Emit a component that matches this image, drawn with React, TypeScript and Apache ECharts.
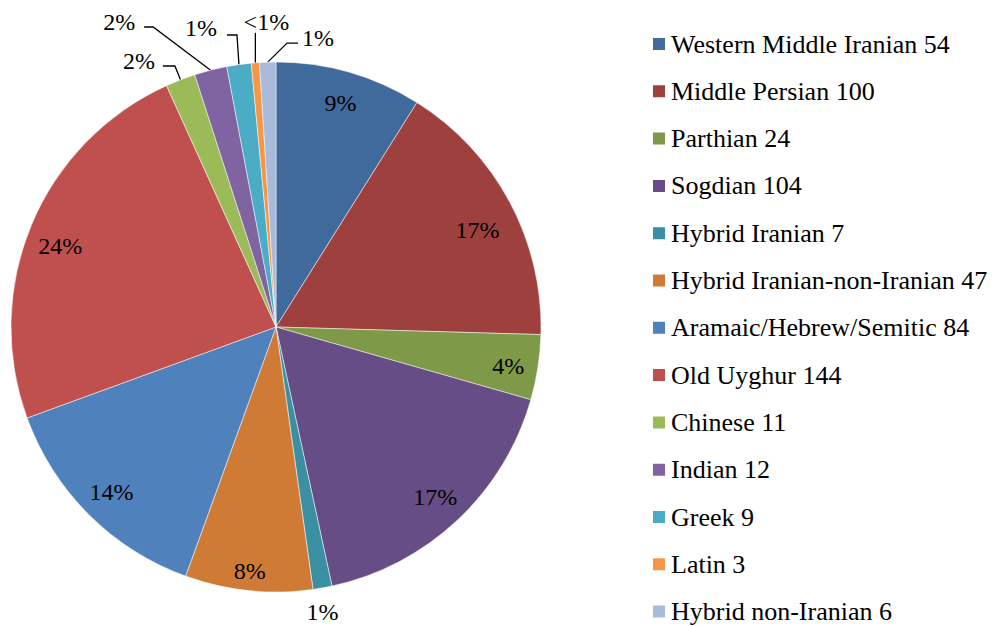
import React, { useEffect, useRef } from "react";
import * as echarts from "echarts";

const categories = [
  "Western Middle Iranian",
  "Middle Persian",
  "Parthian",
  "Sogdian",
  "Hybrid Iranian",
  "Hybrid Iranian-non-Iranian",
  "Aramaic/Hebrew/Semitic",
  "Old Uyghur",
  "Chinese",
  "Indian",
  "Greek",
  "Latin",
  "Hybrid non-Iranian",
];
const counts = [54, 100, 24, 104, 7, 47, 84, 144, 11, 12, 9, 3, 6];

const colors = [
  "#40699C",
  "#9E413E",
  "#7E9A48",
  "#664D86",
  "#3A8FA2",
  "#CF7B35",
  "#4F81BD",
  "#C0504D",
  "#9BBB59",
  "#8064A2",
  "#4BACC6",
  "#F79646",
  "#A9BADA",
];

// indices whose percentage label sits outside the pie
const outsideIdx = [4, 8, 9, 10, 11, 12];

// leader-line styling for outside labels, offsets relative to the slice's outer edge point
const leaderStyle: Record<
  number,
  { bend: [number, number]; end: [number, number]; label: [number, number]; align: string; line: boolean }
> = {
  4: { bend: [0, 0], end: [0, 0], label: [0, 24], align: "center", line: false },
  8: { bend: [-5.6, -13.8], end: [-17.6, -13.8], label: [-8, -5], align: "right", line: true },
  9: { bend: [-57.5, -43.2], end: [-66.5, -43.2], label: [-9, -5], align: "right", line: true },
  10: { bend: [-2, -29.6], end: [-12, -29.6], label: [-10, -7], align: "right", line: true },
  11: { bend: [0, -30], end: [0, -30], label: [11, -11], align: "center", line: true },
  12: { bend: [19.3, -19.1], end: [30.3, -19.1], label: [4, -5], align: "left", line: true },
};

// small nudges of the inside labels (best-fit placement of the original)
const insideNudge: Record<number, [number, number]> = {
  1: [-4, 13],
  2: [2, 3],
  5: [-2, 12],
  7: [-1, 9],
};

const CX = 276;
const CY = 327;
const R = 265;
const FONT = "Liberation Serif";

const total = counts.reduce((a, b) => a + b, 0);

const pctFormatter = (p: any) => {
  const v = Math.round(((p.value as number) / total) * 100);
  if (v < 1) return "<1%";
  return v + "%";
};

export default function App() {
  const ref = useRef<HTMLDivElement>(null);
  useEffect(() => {
    if (!ref.current) return;
    const chart = echarts.init(ref.current, undefined, { renderer: "svg" });
    const midAngles: number[] = [];
    let cum = 0;
    counts.forEach((c) => {
      midAngles.push(((cum + c / 2) / total) * Math.PI * 2);
      cum += c;
    });
    const edgePoint = (i: number): [number, number] => [
      CX + R * Math.sin(midAngles[i]),
      CY - R * Math.cos(midAngles[i]),
    ];

    const mainData = categories.map((name, i) => ({
      name,
      value: counts[i],
      itemStyle: { color: colors[i] },
      label: { show: outsideIdx.includes(i) },
      labelLine: { show: outsideIdx.includes(i) && leaderStyle[i].line },
    }));
    const overlayData = categories.map((name, i) => ({
      name,
      value: counts[i],
      label: { show: !outsideIdx.includes(i) },
    }));

    chart.setOption({
      animation: false,
      color: colors,
      textStyle: { fontFamily: FONT },
      legend: {
        orient: "vertical",
        left: 651,
        top: 31,
        height: 595,
        padding: 0,
        itemWidth: 14,
        itemHeight: 14,
        itemGap: 21.3,
        icon: "rect",
        data: categories,
        selectedMode: false,
        formatter: (name: string) => `${name} ${counts[categories.indexOf(name)]}`,
        textStyle: { fontFamily: FONT, fontSize: 26, lineHeight: 26, color: "#000" },
      },
      series: [
        {
          type: "pie",
          center: [CX, CY],
          radius: R,
          startAngle: 90,
          clockwise: true,
          avoidLabelOverlap: false,
          silent: true,
          itemStyle: { borderColor: "#ffffff", borderWidth: 0.5 },
          label: {
            position: "outside",
            formatter: pctFormatter,
            fontFamily: FONT,
            fontSize: 24,
            color: "#000",
          },
          labelLine: { lineStyle: { color: "#000", width: 1.3 }, length: 10, length2: 10 },
          labelLayout: (params: any) => {
            const i = params.dataIndex;
            const s = leaderStyle[i];
            if (!s) return {};
            const [ex, ey] = edgePoint(i);
            const bx = ex + s.bend[0];
            const by = ey + s.bend[1];
            const tx = ex + s.end[0];
            const ty = ey + s.end[1];
            return {
              x: tx + s.label[0],
              y: ty + s.label[1],
              align: s.align,
              verticalAlign: "middle",
              labelLinePoints: [
                [ex, ey],
                [bx, by],
                [tx, ty],
              ],
            };
          },
          data: mainData,
        },
        {
          type: "pie",
          center: [CX, CY],
          radius: [195, R],
          startAngle: 90,
          clockwise: true,
          silent: true,
          legendHoverLink: false,
          itemStyle: { color: "rgba(0,0,0,0)", borderWidth: 0 },
          label: {
            position: "inside",
            formatter: pctFormatter,
            fontFamily: FONT,
            fontSize: 24,
            color: "#000",
          },
          labelLine: { show: false },
          labelLayout: (params: any) => {
            const n = insideNudge[params.dataIndex];
            if (!n) return {};
            return { dx: n[0], dy: n[1] };
          },
          emphasis: { disabled: true },
          data: overlayData,
        },
      ],
    });
    return () => chart.dispose();
  }, []);
  return (
    <div
      ref={ref}
      style={{ position: "absolute", left: 0, top: 0, width: 998, height: 626, background: "#fff" }}
    />
  );
}
